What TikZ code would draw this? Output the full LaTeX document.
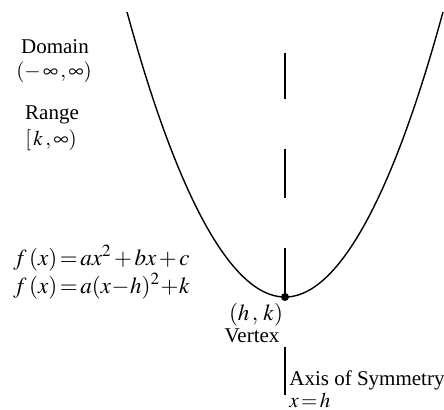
\documentclass[tikz,border=0pt]{standalone}
\usepackage{mathptmx}
\usepackage{fontspec}
\setmainfont{Liberation Serif}
\usepackage{tikz}
\usetikzlibrary{positioning}

\begin{document}
\begin{tikzpicture}[x=0.5pt, y=-0.5pt,
    txt/.style={font=\fontsize{10.5}{12}\selectfont, inner sep=0pt},
    bigtxt/.style={font=\fontsize{11.5}{14}\selectfont, inner sep=0pt},
    curve/.style={black, line width=0.7pt}]
  \useasboundingbox (0,0) rectangle (444,409);

  % parabola and vertex
  \coordinate (lend) at (127,12);
  \coordinate (vtx) at (285,297);
  \coordinate (rend) at (443,12);
  \coordinate (axtop) at (285,53);
  \draw[curve] (lend) parabola bend (vtx) (rend);
  \draw[curve, dash pattern=on 24.5pt off 25pt] (vtx) -- (axtop);
  \fill (vtx) circle (2pt);

  % domain and range
  \node[txt, anchor=base] (domain) at (55,53) {Domain};
  \node[txt, anchor=base] (domval) at (54,77) {$(-\,\infty\,,\infty)$};
  \node[txt, anchor=base] (range) at (52,119) {Range};
  \node[txt, anchor=base] (ranval) at (51,145) {$[\,k\,,\infty)$};

  % forms
  \node[bigtxt, anchor=base west] (stdform) at (13,265)
    {$f\,(x)\!=\!ax^2\,{+}\,bx\,{+}\,c$};
  \node[bigtxt, anchor=base west] (vtxform) at (13,293)
    {$f\,(x)\!=\!a(x\!-\!h)^2\!+\!k$};

  % vertex label
  \node[bigtxt, anchor=base] (hk) at (256,320) {$(h\,,\,k)$};
  \node[txt, anchor=base] (vlabel) at (252,342) {Vertex};

  % axis of symmetry
  \coordinate (axa) at (285,347);
  \coordinate (axb) at (285,395);
  \draw[curve] (axa) -- (axb);
  \node[txt, anchor=base west] (axis) at (289,385) {Axis of Symmetry};
  \node[txt, anchor=base west] (axeq) at (289,407) {$x\!=\!h$};
\end{tikzpicture}
\end{document}
